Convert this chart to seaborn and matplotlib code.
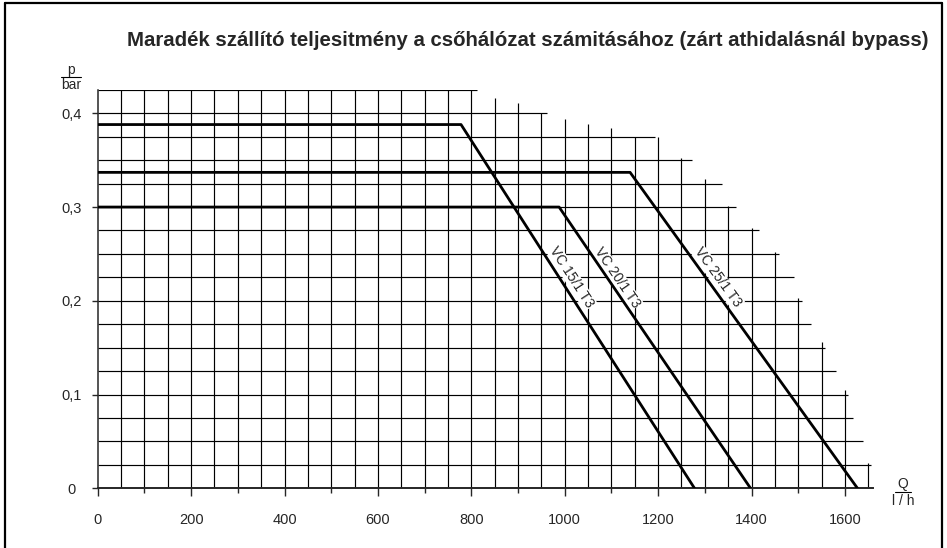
import numpy as np
import pandas as pd
import matplotlib.pyplot as plt
import seaborn as sns
from matplotlib.lines import Line2D

# maradek szallito teljesitmeny, Q in l/h, p in bar
models = ["VC 15/1 T3", "VC 20/1 T3", "VC 25/1 T3"]
curve_q = [[0, 778, 1278], [0, 988, 1398], [0, 1140, 1627]]
curve_p = [[0.388, 0.388, 0.0], [0.300, 0.300, 0.0], [0.337, 0.337, 0.0]]

# stepped millimetre grid of the original sheet
grid_q = list(range(0, 1700, 50))
grid_q_top = [0.425] * 17 + [0.416, 0.411, 0.400, 0.394, 0.389, 0.384, 0.375, 0.375,
                             0.352, 0.330, 0.301, 0.278, 0.252, 0.203, 0.156, 0.105, 0.027]
grid_p = [round(0.025 * i, 3) for i in range(18)]
grid_p_end = [1660, 1655, 1638, 1618, 1606, 1580, 1557, 1527, 1509, 1491,
              1459, 1417, 1367, 1336, 1272, 1194, 963, 812]

x_ticks = [0, 200, 400, 600, 800, 1000, 1200, 1400, 1600]
x_tick_labels = ["0", "200", "400", "600", "800", "1000", "1200", "1400", "1600"]
y_ticks = [0, 0.1, 0.2, 0.3, 0.4]
y_tick_labels = ["0", "0,1", "0,2", "0,3", "0,4"]

title = "Maradék szállító teljesitmény a csőhálózat számitásához (zárt athidalásnál bypass)"

sns.set_style("white")
plt.rcParams["font.family"] = ["Liberation Sans", "DejaVu Sans"]

W, H = 947, 548
fig = plt.figure(figsize=(W / 100, H / 100), dpi=100)
x0, y0 = 97.7, 488.3
sx, sy = 0.467, 937.5
ax = fig.add_axes([x0 / W, (H - y0) / H, 1660 * sx / W, 0.425 * sy / H])
ax.set_xlim(0, 1660)
ax.set_ylim(0, 0.425)
ax.patch.set_alpha(0)

# grid
ax.vlines(grid_q[1:], 0, grid_q_top[1:], color="black", lw=0.85, zorder=1)
ax.hlines(grid_p[1:], 0, grid_p_end[1:], color="black", lw=0.85, zorder=1)

for name, q, p in zip(models, curve_q, curve_p):
    df = pd.DataFrame({"Q": q, "p": p})
    sns.lineplot(data=df, x="Q", y="p", sort=False, estimator=None,
                 color="black", lw=2.0, ax=ax, zorder=4)

# curve labels, right of each sloping segment
label_pos = [(1015, 0.225, -57), (1112, 0.225, -55.5), (1328, 0.225, -54)]
for name, (lq, lp, rot) in zip(models, label_pos):
    ax.text(lq, lp, name, rotation=rot, rotation_mode="anchor", ha="center",
            va="center", fontsize=10, zorder=3,
            bbox=dict(facecolor="white", edgecolor="none", pad=0.5))

for s in ["top", "right"]:
    ax.spines[s].set_visible(False)
ax.spines["left"].set_linewidth(1.1)
ax.spines["bottom"].set_linewidth(1.4)

ax.set_xticks(x_ticks)
ax.set_xticklabels(x_tick_labels)
ax.set_xticks([100, 300, 500, 700, 900, 1100, 1300, 1500], minor=True)
ax.set_yticks(y_ticks)
ax.set_yticklabels(y_tick_labels)
ax.tick_params(axis="x", which="major", direction="out", length=6, width=1,
               pad=12, labelsize=10.5, bottom=True)
ax.tick_params(axis="x", which="minor", direction="out", length=3.5, width=1, bottom=True)
ax.tick_params(axis="y", which="major", direction="out", length=4, width=1,
               pad=15, labelsize=10.5, left=True)
for lab in ax.get_yticklabels():
    lab.set_horizontalalignment("center")
ax.set_xlabel("")
ax.set_ylabel("")

# axis unit fractions
fig.text(71 / W, 1 - 70 / H, "p", ha="center", va="center", fontsize=10)
fig.text(71 / W, 1 - 85 / H, "bar", ha="center", va="center", fontsize=10)
fig.add_artist(Line2D([61 / W, 81 / W], [1 - 77 / H, 1 - 77 / H], color="black", lw=0.8))
fig.text(903 / W, 1 - 484 / H, "Q", ha="center", va="center", fontsize=10)
fig.text(903 / W, 1 - 501 / H, "l / h", ha="center", va="center", fontsize=10)
fig.add_artist(Line2D([895 / W, 911 / W], [1 - 492 / H, 1 - 492 / H], color="black", lw=0.8))

fig.text(528 / W, 1 - 40 / H, title, ha="center", va="center",
         fontsize=14.7, fontweight="bold")

# sheet frame
frame = dict(color="black", lw=1.6)
fig.add_artist(Line2D([5 / W, 5 / W], [0, 1 - 3 / H], **frame))
fig.add_artist(Line2D([5 / W, 942 / W], [1 - 3 / H, 1 - 3 / H], **frame))
fig.add_artist(Line2D([942 / W, 942 / W], [0, 1 - 3 / H], **frame))

fig.savefig("out.png", dpi=100)
